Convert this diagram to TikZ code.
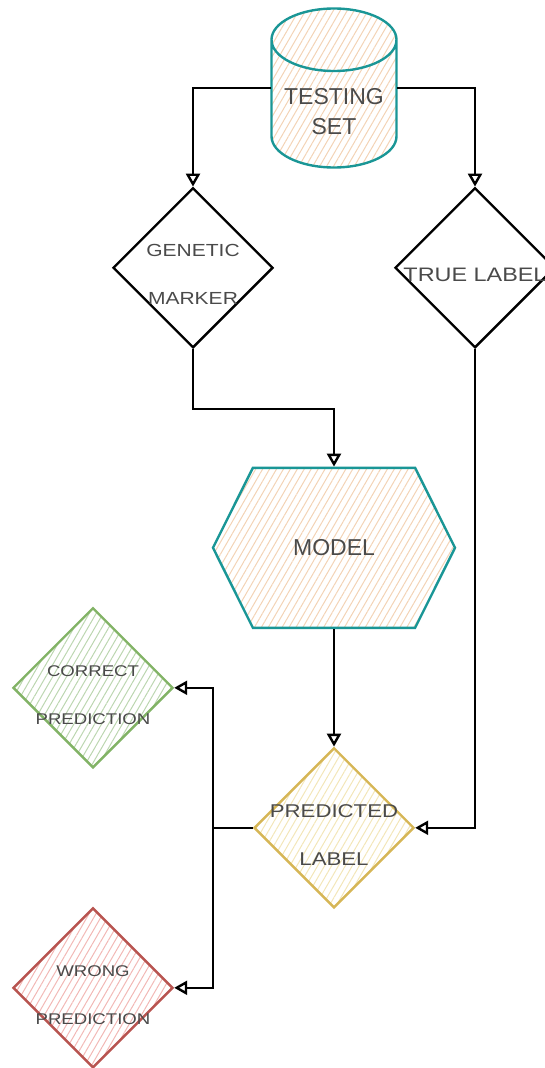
\documentclass[tikz,border=0pt]{standalone}
\usepackage{fontspec}
\setmainfont{Liberation Sans}
\newfontfamily\sketchfont[FakeStretch=1.2]{Liberation Sans}
\usetikzlibrary{shapes.geometric, shapes.symbols, positioning, arrows.meta, patterns.meta}
\definecolor{tealline}{HTML}{1A9696}
\definecolor{peachhatch}{HTML}{F3D3B5}
\definecolor{greenline}{HTML}{82B366}
\definecolor{greenhatch}{HTML}{BCD6B0}
\definecolor{yellowline}{HTML}{D6B656}
\definecolor{yellowhatch}{HTML}{F3E6B8}
\definecolor{redline}{HTML}{B85450}
\definecolor{redhatch}{HTML}{F2B8B5}
\definecolor{textgray}{HTML}{4A4A4A}

\begin{document}
\begin{tikzpicture}[x=1pt,y=-1pt,on grid,line width=2.4pt,
    hatch/.style={pattern={Lines[angle=60,distance=6pt,line width=1pt]},pattern color=#1},
    store/.style={cylinder,shape border rotate=90,aspect=0.5,draw=tealline,text width=121pt,
      minimum width=125pt,minimum height=159pt,inner sep=2pt,hatch=peachhatch},
    process/.style={signal,signal to=east and west,signal pointer angle=127,draw=tealline,
      minimum width=242pt,minimum height=160pt,inner sep=0pt,hatch=peachhatch,
      font=\fontsize{23}{30}\selectfont,text=textgray},
    decision/.style={diamond,draw,aspect=1,minimum width=160pt,minimum height=160pt,inner sep=0pt},
    sketch/.style={align=center,text=textgray,yshift=-7pt,font=\sketchfont\fontsize{#1}{48}\selectfont},
    arr/.style={-{Triangle[open,length=13pt,width=14pt]},black}]
  \useasboundingbox (0,0) rectangle (545,1068);

  \node[store,anchor=shape center] (testing) at (334,88)
    [label={[align=center,text=textgray,yshift=-4pt,font=\fontsize{23}{30}\selectfont]center:{TESTING\\SET}}] {};
  \node[decision] (genetic) [below left=160pt and 141pt of testing,
    label={[sketch=17.5]center:{GENETIC\\MARKER}}] {};
  \node[decision] (truelabel) [right=282pt of genetic,
    label={[sketch=19.5]center:{TRUE LABEL}}] {};
  \node[process] (model) [below right=280pt and 141pt of genetic] {MODEL};
  \node[decision,draw=yellowline,hatch=yellowhatch] (predicted) [below=280pt of model,
    label={[sketch=18.5]center:{PREDICTED\\LABEL}}] {};
  \node[decision,draw=greenline,hatch=greenhatch] (correct) [above left=140pt and 241pt of predicted,
    label={[sketch=15.5]center:{CORRECT\\PREDICTION}}] {};
  \node[decision,draw=redline,hatch=redhatch] (wrong) [below left=160pt and 241pt of predicted,
    label={[sketch=15.5]center:{WRONG\\PREDICTION}}] {};

  % data split
  \draw[arr] (testing.shape center -| testing.west) -| (genetic.north);
  \draw[arr] (testing.shape center -| testing.east) -| (truelabel.north);
  % prediction
  \draw[arr] (genetic.south) -- ++(0,60) -| (model.north);
  \draw[arr] (model.south) -- (predicted.north);
  \draw[arr] (truelabel.south) |- (predicted.east);
  % outcome
  \draw (predicted.west) -- ++(-40,0) coordinate (split);
  \draw[arr] (split) |- (correct.east);
  \draw[arr] (split) |- (wrong.east);
\end{tikzpicture}
\end{document}
